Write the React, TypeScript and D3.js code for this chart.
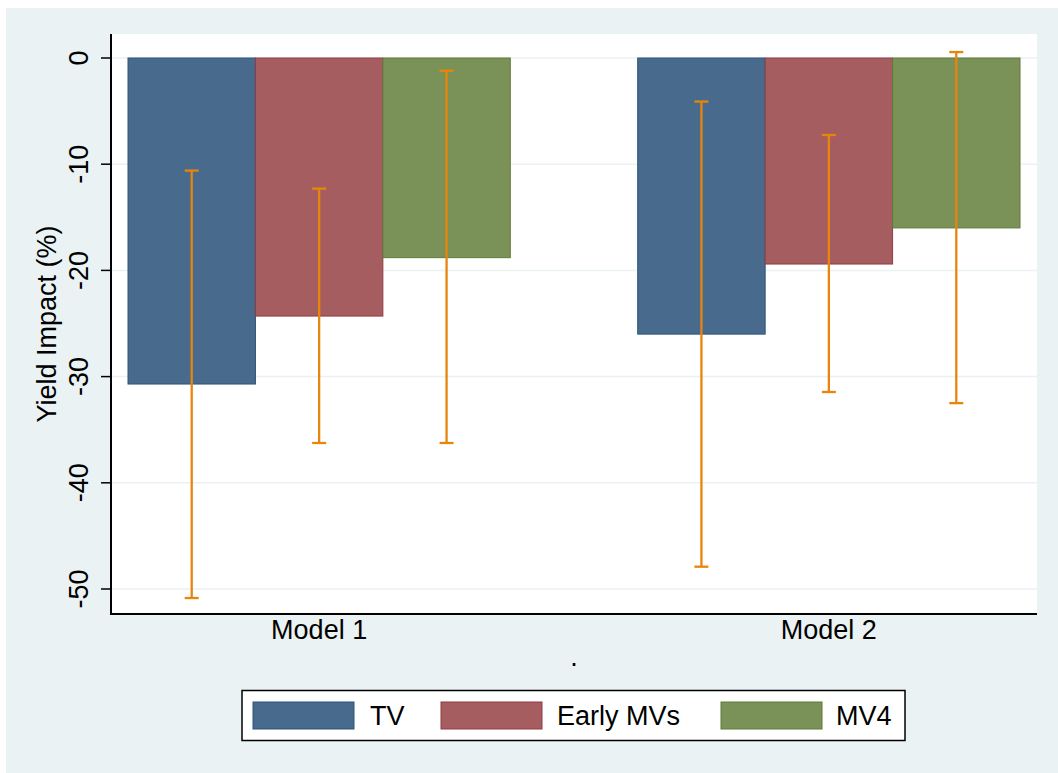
import React from "react";
import * as d3 from "d3";

const groups = ["Model 1", "Model 2"];
const series = ["TV", "Early MVs", "MV4"];
const values: number[][] = [
  [-30.7, -24.3, -18.8],
  [-26.0, -19.4, -16.0],
];
const ciLow: number[][] = [
  [-50.85, -36.25, -36.25],
  [-47.9, -31.45, -32.5],
];
const ciHigh: number[][] = [
  [-10.6, -12.3, -1.2],
  [-4.1, -7.25, 0.56],
];
const yTicks = [0, -10, -20, -30, -40, -50];
const fills = ["#486A8C", "#A65D60", "#7A9157"];
const strokes = ["#2C5478", "#8E3D42", "#5E7A3A"];
const ERR = "#E8850C";
const BG = "#EAF2F3";
const FONT = "'Liberation Sans', Arial, sans-serif";

export default function App() {
  const W = 1058, H = 773;
  const pl = 111, pr = 1037, pt = 34, pb = 614;
  const y = d3.scaleLinear().domain([0, -50]).range([58, 589]);
  const x0 = d3.scaleBand().domain(groups).range([pl + 17, pr - 17]).paddingInner(0.25).paddingOuter(0);
  const bw = x0.bandwidth() / 3;
  const x1 = d3.scaleBand().domain(series).range([0, x0.bandwidth()]);
  const fs = 27;
  const legendItems = [
    { sx: 253, tx: 370 },
    { sx: 441, tx: 557 },
    { sx: 721, tx: 836 },
  ];
  return (
    <svg width={W} height={H} style={{ position: "absolute", left: 0, top: 0 }} fontFamily={FONT}>
      <rect x={0} y={0} width={W} height={H} fill="#fff" />
      <rect x={6} y={8} width={W - 6} height={H - 8} fill={BG} />
      <rect x={pl} y={pt} width={pr - pl} height={pb - pt} fill="#fff" />
      {yTicks.map((t) => (
        <line key={"g" + t} x1={pl} x2={pr} y1={y(t)} y2={y(t)} stroke={BG} strokeWidth={1.5} />
      ))}
      {groups.map((g, gi) =>
        series.map((s, si) => {
          const bx = (x0(g) as number) + (x1(s) as number);
          const v = values[gi][si];
          return (
            <rect
              key={g + s}
              x={bx}
              y={y(0)}
              width={bw}
              height={y(v) - y(0)}
              fill={fills[si]}
              stroke={strokes[si]}
              strokeWidth={1}
            />
          );
        })
      )}
      {groups.map((g, gi) =>
        series.map((s, si) => {
          const cx = (x0(g) as number) + (x1(s) as number) + bw / 2;
          const lo = y(ciLow[gi][si]);
          const hi = y(ciHigh[gi][si]);
          return (
            <g key={"e" + g + s} stroke={ERR} strokeWidth={2.3}>
              <line x1={cx} x2={cx} y1={hi} y2={lo} />
              <line x1={cx - 7} x2={cx + 7} y1={hi} y2={hi} />
              <line x1={cx - 7} x2={cx + 7} y1={lo} y2={lo} />
            </g>
          );
        })
      )}
      <line x1={pl} x2={pl} y1={pt} y2={pb + 1} stroke="#000" strokeWidth={2} />
      <line x1={pl - 1} x2={pr} y1={pb} y2={pb} stroke="#000" strokeWidth={2} />
      {yTicks.map((t) => (
        <g key={"t" + t}>
          <line x1={pl - 10} x2={pl} y1={y(t)} y2={y(t)} stroke="#000" strokeWidth={1.5} />
          <text
            transform={`translate(88,${y(t)}) rotate(-90)`}
            textAnchor="middle"
            fontSize={fs}
            fill="#000"
          >
            {t}
          </text>
        </g>
      ))}
      <text
        transform={`translate(56,${(pt + pb) / 2}) rotate(-90)`}
        textAnchor="middle"
        fontSize={fs}
        fill="#000"
      >
        Yield Impact (%)
      </text>
      {groups.map((g) => (
        <text key={"x" + g} x={(x0(g) as number) + x0.bandwidth() / 2} y={639} textAnchor="middle" fontSize={fs} fill="#000">
          {g}
        </text>
      ))}
      <text x={(pl + pr) / 2} y={666} textAnchor="middle" fontSize={fs} fill="#000">.</text>
      <rect x={242} y={690.5} width={663} height={50} fill="#fff" stroke="#000" strokeWidth={1.5} />
      {series.map((s, i) => (
        <g key={"l" + s}>
          <rect x={legendItems[i].sx} y={702} width={101} height={27} fill={fills[i]} stroke={strokes[i]} strokeWidth={1} />
          <text x={legendItems[i].tx} y={725} fontSize={fs} fill="#000">{s}</text>
        </g>
      ))}
    </svg>
  );
}
